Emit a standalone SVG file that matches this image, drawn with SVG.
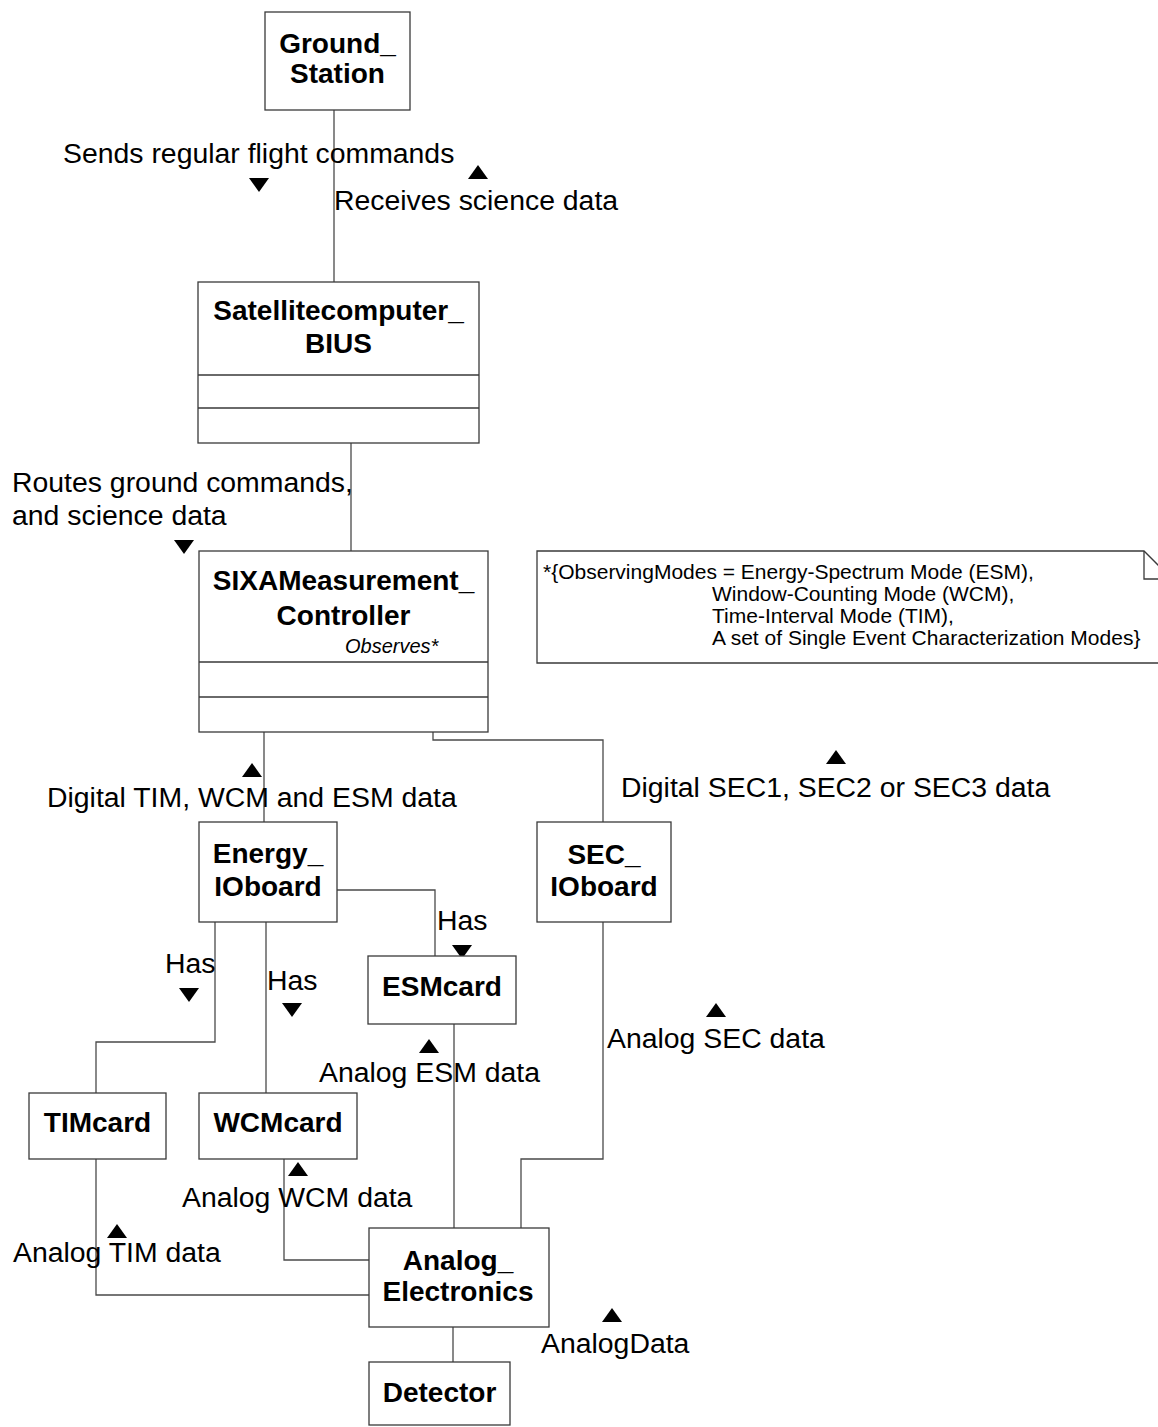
<svg xmlns="http://www.w3.org/2000/svg" width="1158" height="1427" viewBox="0 0 1158 1427">
  <style>
    .box { fill: #ffffff; stroke: #3a3a3a; stroke-width: 1.3; }
    .sep { stroke: #3a3a3a; stroke-width: 1.3; fill: none; }
    .wire { stroke: #4a4a4a; stroke-width: 1.3; fill: none; }
    .title { font-family: "Liberation Sans", Arial, sans-serif; font-weight: bold; font-size: 28px; fill: #000; text-anchor: middle; }
    .label { font-family: "Liberation Sans", Arial, sans-serif; font-size: 28.4px; fill: #000; }
    .small { font-family: "Liberation Sans", Arial, sans-serif; font-size: 20px; fill: #000; }
    .note { font-family: "Liberation Sans", Arial, sans-serif; font-size: 21px; fill: #000; }
    .ital { font-style: italic; }
    .tri { fill: #000; }
  </style>
  <defs>
    <path id="tri-up" class="tri" d="M0,-7 L10,7 L-10,7 Z"/>
    <path id="tri-down" class="tri" d="M-10,-7 L10,-7 L0,7 Z"/>
  </defs>
  <rect width="1158" height="1427" fill="#ffffff"/>

  <!-- connectors between classes -->
  <g id="connectors">
    <path class="wire" d="M334,110 V282"/>
    <path class="wire" d="M351,443 V551"/>
    <path class="wire" d="M264,732 V822"/>
    <path class="wire" d="M433,732 V740 H603 V822"/>
    <path class="wire" d="M337,890 H435 V956"/>
    <path class="wire" d="M215,922 V1042 H96 V1093"/>
    <path class="wire" d="M266,922 V1093"/>
    <path class="wire" d="M454,1024 V1228"/>
    <path class="wire" d="M603,922 V1159 H521 V1228"/>
    <path class="wire" d="M284,1159 V1260 H369"/>
    <path class="wire" d="M96,1159 V1295 H369"/>
    <path class="wire" d="M453,1327 V1362"/>
  </g>

  <!-- association labels with direction triangles -->
  <g id="labels">
    <text class="label" x="63" y="163">Sends regular flight commands</text>
    <use href="#tri-down" x="259" y="185"/>
    <text class="label" x="334" y="210">Receives science data</text>
    <use href="#tri-up" x="478" y="172"/>

    <text class="label" x="12" y="492">Routes ground commands,</text>
    <text class="label" x="12" y="525">and science data</text>
    <use href="#tri-down" x="184" y="547"/>

    <use href="#tri-up" x="252" y="770"/>
    <text class="label" x="47" y="807">Digital TIM, WCM and ESM data</text>
    <use href="#tri-up" x="836" y="757"/>
    <text class="label" x="621" y="797">Digital SEC1, SEC2 or SEC3 data</text>

    <text class="label" x="437" y="930">Has</text>
    <use href="#tri-down" x="462" y="952"/>
    <text class="label" x="165" y="973">Has</text>
    <use href="#tri-down" x="189" y="995"/>
    <text class="label" x="267" y="990">Has</text>
    <use href="#tri-down" x="292" y="1010"/>

    <use href="#tri-up" x="429" y="1046"/>
    <text class="label" x="319" y="1082">Analog ESM data</text>
    <use href="#tri-up" x="716" y="1010"/>
    <text class="label" x="607" y="1048">Analog SEC data</text>
    <use href="#tri-up" x="298" y="1169"/>
    <text class="label" x="182" y="1207">Analog WCM data</text>
    <use href="#tri-up" x="117" y="1231"/>
    <text class="label" x="13" y="1262">Analog TIM data</text>
    <use href="#tri-up" x="612" y="1315"/>
    <text class="label" x="541" y="1353">AnalogData</text>
  </g>

  <g id="ground-station">
    <rect class="box" x="265" y="12" width="145" height="98"/>
    <text class="title" x="337.5" y="53">Ground_</text>
    <text class="title" x="337.5" y="83">Station</text>
  </g>

  <g id="satellitecomputer-bius">
    <rect class="box" x="198" y="282" width="281" height="161"/>
    <path class="sep" d="M198,375 H479 M198,408 H479"/>
    <text class="title" x="338.5" y="320">Satellitecomputer_</text>
    <text class="title" x="338.5" y="353">BIUS</text>
  </g>

  <g id="sixa-measurement-controller">
    <rect class="box" x="199" y="551" width="289" height="181"/>
    <path class="sep" d="M199,662 H488 M199,697 H488"/>
    <text class="title" x="343.5" y="590">SIXAMeasurement_</text>
    <text class="title" x="343.5" y="625">Controller</text>
    <text class="small ital" x="345" y="653">Observes*</text>
  </g>

  <g id="observing-modes-note">
    <path class="box" d="M537,551 H1144 L1172,579 V663 H537 Z"/>
    <path class="sep" d="M1144,551 V579 H1172"/>
    <text class="note" x="543" y="579">*{ObservingModes = Energy-Spectrum Mode (ESM),</text>
    <text class="note" x="712" y="601">Window-Counting Mode (WCM),</text>
    <text class="note" x="712" y="623">Time-Interval Mode (TIM),</text>
    <text class="note" x="712" y="645">A set of Single Event Characterization Modes}</text>
  </g>

  <g id="energy-ioboard">
    <rect class="box" x="199" y="822" width="138" height="100"/>
    <text class="title" x="268" y="863">Energy_</text>
    <text class="title" x="268" y="896">IOboard</text>
  </g>

  <g id="sec-ioboard">
    <rect class="box" x="537" y="822" width="134" height="100"/>
    <text class="title" x="604" y="864">SEC_</text>
    <text class="title" x="604" y="896">IOboard</text>
  </g>

  <g id="esmcard">
    <rect class="box" x="368" y="956" width="148" height="68"/>
    <text class="title" x="442" y="996">ESMcard</text>
  </g>

  <g id="timcard">
    <rect class="box" x="29" y="1093" width="137" height="66"/>
    <text class="title" x="97.5" y="1132">TIMcard</text>
  </g>

  <g id="wcmcard">
    <rect class="box" x="199" y="1093" width="158" height="66"/>
    <text class="title" x="278" y="1132">WCMcard</text>
  </g>

  <g id="analog-electronics">
    <rect class="box" x="369" y="1228" width="180" height="99"/>
    <text class="title" x="458" y="1270">Analog_</text>
    <text class="title" x="458" y="1301">Electronics</text>
  </g>

  <g id="detector">
    <rect class="box" x="369" y="1362" width="141" height="63"/>
    <text class="title" x="439.5" y="1402">Detector</text>
  </g>
</svg>
